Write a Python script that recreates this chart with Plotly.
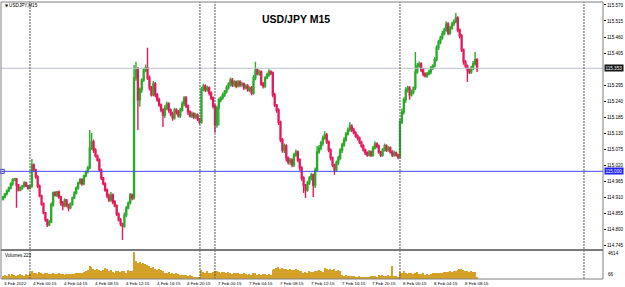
import plotly.graph_objects as go

# ---------------- data ----------------
close = [
    114.912, 114.923, 114.933, 114.943, 114.957, 114.971, 114.974, 114.953, 114.936, 114.943,
    114.950, 114.960, 114.950, 114.943, 114.950, 115.022, 115.005, 114.981, 114.950, 114.916,
    114.888, 114.858, 114.834, 114.817, 114.827, 114.885, 114.926, 114.919, 114.929, 114.912,
    114.892, 114.882, 114.902, 114.885, 114.875, 114.888, 114.909, 114.926, 114.943, 114.960,
    114.971, 114.957, 114.984, 114.998, 115.012, 115.080, 115.101, 115.073, 115.053, 115.039,
    115.005, 114.977, 114.957, 114.936, 114.916, 114.902, 114.919, 114.895, 114.882, 114.854,
    114.834, 114.820, 114.813, 114.851, 114.875, 114.892, 114.919, 114.909, 115.320, 115.347,
    115.245, 115.279, 115.313, 115.347, 115.354, 115.320, 115.286, 115.262, 115.299, 115.262,
    115.245, 115.227, 115.210, 115.193, 115.217, 115.231, 115.210, 115.197, 115.183, 115.210,
    115.203, 115.190, 115.210, 115.231, 115.251, 115.224, 115.203, 115.190, 115.197, 115.186,
    115.193, 115.179, 115.169, 115.279, 115.292, 115.279, 115.286, 115.268, 115.251, 115.224,
    115.159, 115.217, 115.245, 115.251, 115.262, 115.272, 115.286, 115.299, 115.313, 115.296,
    115.306, 115.292, 115.306, 115.296, 115.299, 115.286, 115.292, 115.279, 115.286, 115.268,
    115.320, 115.347, 115.334, 115.340, 115.299, 115.292, 115.320, 115.330, 115.340, 115.337,
    115.262, 115.227, 115.210, 115.169, 115.108, 115.073, 115.087, 115.046, 115.032, 115.039,
    115.022, 115.056, 115.066, 115.039, 115.012, 114.977, 114.953, 114.936, 114.960, 114.977,
    114.988, 114.953, 115.005, 115.066, 115.080, 115.097, 115.114, 115.125, 115.101, 115.073,
    115.046, 115.022, 115.005, 115.029, 115.046, 115.073, 115.090, 115.108, 115.128, 115.142,
    115.155, 115.142, 115.132, 115.121, 115.114, 115.101, 115.087, 115.073, 115.063, 115.056,
    115.066, 115.056, 115.080, 115.094, 115.087, 115.066, 115.056, 115.073, 115.087, 115.073,
    115.080, 115.066, 115.056, 115.063, 115.056, 115.049, 115.169, 115.203, 115.245, 115.279,
    115.286, 115.262, 115.272, 115.286, 115.340, 115.361, 115.368, 115.347, 115.334, 115.327,
    115.334, 115.340, 115.354, 115.361, 115.382, 115.423, 115.443, 115.457, 115.471, 115.484,
    115.505, 115.474, 115.491, 115.505, 115.512, 115.525, 115.484, 115.464, 115.416, 115.375,
    115.361, 115.347, 115.340, 115.354, 115.368, 115.382, 115.353,
]
first_open = 114.905

# upper / lower shadow lengths, in 0.001 price units
upper_wick = [
    4, 3, 5, 4, 6, 5, 4, 3, 4, 5,
    3, 6, 4, 3, 5, 20, 5, 4, 6, 5,
    4, 5, 3, 4, 6, 8, 5, 6, 4, 5,
    4, 6, 5, 3, 4, 5, 4, 6, 5, 4,
    6, 5, 4, 5, 6, 62, 30, 8, 6, 5,
    6, 5, 4, 6, 5, 8, 10, 5, 6, 4,
    5, 6, 4, 8, 6, 5, 7, 5, 44, 28,
    10, 8, 6, 7, 12, 69, 8, 6, 10, 7,
    6, 8, 5, 6, 10, 8, 6, 5, 7, 8,
    6, 7, 8, 9, 6, 7, 5, 6, 8, 5,
    6, 5, 4, 10, 8, 6, 7, 5, 6, 5,
    6, 8, 7, 6, 8, 7, 9, 6, 8, 7,
    6, 5, 7, 6, 8, 5, 6, 7, 5, 6,
    10, 28, 6, 8, 5, 7, 6, 8, 10, 6,
    5, 6, 4, 6, 5, 7, 8, 6, 5, 7,
    6, 8, 9, 5, 6, 5, 6, 4, 8, 7,
    6, 5, 8, 21, 10, 8, 9, 12, 6, 5,
    6, 5, 4, 8, 7, 6, 8, 9, 7, 8,
    14, 6, 7, 5, 6, 5, 4, 6, 5, 6,
    7, 5, 8, 9, 6, 5, 4, 7, 8, 6,
    7, 5, 6, 8, 5, 4, 10, 12, 8, 9,
    7, 6, 8, 5, 69, 10, 8, 6, 7, 5,
    6, 8, 7, 6, 10, 9, 8, 7, 10, 8,
    9, 6, 8, 7, 9, 17, 6, 5, 6, 5,
    6, 5, 7, 8, 10, 27, 5,
]
lower_wick = [
    5, 4, 6, 5, 4, 6, 5, 78, 5, 4,
    6, 5, 4, 6, 5, 6, 5, 6, 7, 5,
    6, 5, 7, 8, 5, 4, 6, 5, 7, 6,
    10, 15, 5, 8, 12, 5, 6, 4, 5, 6,
    5, 6, 5, 4, 5, 6, 7, 10, 6, 5,
    6, 7, 5, 6, 8, 7, 6, 8, 5, 7,
    6, 8, 48, 6, 7, 5, 6, 8, 6, 10,
    103, 24, 10, 6, 8, 7, 9, 6, 5, 8,
    7, 6, 8, 41, 10, 7, 9, 8, 10, 6,
    8, 6, 7, 5, 8, 7, 10, 6, 7, 8,
    6, 7, 8, 6, 5, 7, 6, 8, 7, 9,
    27, 10, 60, 8, 6, 7, 5, 6, 8, 7,
    6, 7, 5, 8, 6, 7, 5, 6, 8, 7,
    6, 8, 5, 7, 6, 8, 7, 5, 6, 7,
    8, 7, 9, 10, 8, 9, 10, 12, 9, 10,
    8, 7, 6, 8, 10, 9, 27, 27, 6, 7,
    8, 41, 10, 7, 6, 8, 9, 6, 7, 8,
    9, 8, 17, 6, 7, 8, 10, 6, 7, 5,
    6, 7, 5, 6, 8, 7, 6, 5, 7, 6,
    5, 7, 6, 5, 8, 6, 7, 6, 5, 7,
    6, 5, 7, 6, 5, 8, 6, 7, 8, 10,
    9, 17, 6, 8, 7, 6, 5, 7, 8, 6,
    7, 6, 8, 7, 5, 6, 7, 8, 6, 5,
    6, 8, 7, 6, 7, 5, 8, 9, 7, 10,
    8, 41, 7, 6, 8, 6, 13,
]

volume = [
    450, 700, 520, 800, 600, 900, 750, 500, 640, 820, 700, 560, 900, 680, 1100,
    1300,
    950, 1050, 900, 1150, 1000, 850, 1100, 980, 800, 900, 1050, 850, 780, 950,
    800, 900, 750, 850, 820, 900, 780, 860, 950, 1000, 1100, 1050, 1200, 1300, 1500,
    2300, 2000, 1800, 1600, 1700,
    1500, 1400, 1600, 1900, 1700, 1300, 1500, 1200, 1100, 1400, 1300,
    1200, 1400, 1300, 1100, 1500, 1400, 1300,
    4614,
    3100, 2800, 2900, 2600, 2700, 2500, 2400,
    2200, 1900, 2100, 1800, 1600, 1700, 1500, 1400,
    1100, 1000, 1200, 900, 1000, 850, 950,
    800, 700, 750, 650, 700, 600, 650,
    450, 400, 350, 300, 250,
    1500, 1200, 1100, 1300, 1000, 1100, 1200, 1400,
    1300, 1200, 1100, 1250, 1150, 1000, 1200, 1050, 900, 1100, 950, 1000, 850, 900, 950,
    800, 700, 900, 650, 1100, 1000, 750, 800, 700, 850, 900, 750, 800, 700,
    1600, 1700, 1900, 2000, 1800, 1900, 1700, 1800, 1600, 1700, 1500, 1600, 1700, 1500, 1400, 1300,
    1100, 1200, 1000, 1300, 1150, 1250, 1400, 1300, 1500, 1350, 1200,
    1950, 1700, 1600, 1750, 1500, 1800, 1400, 1600, 1300,
    700, 600, 650, 500, 550, 450, 500, 400, 350, 450, 400, 300, 350, 400, 300,
    450, 600, 500, 400, 650, 550, 700, 500, 600, 750, 500,
    2200,
    500, 600, 400,
    1200, 1100, 1300, 1000, 900, 1100, 950, 800, 1000, 1200,
    900, 800, 950, 700, 850, 750, 900, 1000, 1100, 950,
    1000, 1050, 1100, 1200, 1150, 1250, 1300, 1200, 1350, 1400,
    1500, 1700, 1650, 1600, 1400, 1300,
    1200, 1300, 1250, 1150, 223,
]

price_ticks = [115.570, 115.515, 115.460, 115.405, 115.295, 115.240, 115.185,
               115.130, 115.075, 115.020, 114.965, 114.910, 114.855, 114.800, 114.745]
bid_price = 115.353
level_price = 115.000

time_labels = [
    (0, "3 Feb 2022"), (15, "4 Feb 00:15"), (31, "4 Feb 04:15"), (47, "4 Feb 08:15"),
    (63, "4 Feb 12:15"), (79, "4 Feb 16:15"), (95, "4 Feb 20:15"), (111, "7 Feb 00:15"),
    (127, "7 Feb 04:15"), (143, "7 Feb 08:15"), (159, "7 Feb 12:15"), (175, "7 Feb 16:15"),
    (191, "7 Feb 20:15"), (207, "8 Feb 00:15"), (223, "8 Feb 04:15"), (239, "8 Feb 08:15"),
]
separators = [14, 102.2, 110, 206, 301.5]
vol_max_label = 4614
vol_min_label = 66

# ---------------- build ----------------
n = len(close)
idx = list(range(n))
opens = [first_open] + close[:-1]
highs = [max(o, c) + u / 1000 for o, c, u in zip(opens, close, upper_wick)]
lows = [min(o, c) - l / 1000 for o, c, l in zip(opens, close, lower_wick)]

GREEN = "#2AAA2A"
RED = "#E5195A"
FONT = "Arial, Liberation Sans, sans-serif"

W, H = 625, 287
ML, MR, MT, MB = 1, 22, 2, 8
PH = H - MT - MB  # plot height in px


def py(ypx):  # pixel -> paper y
    return (H - MB - ypx) / PH


def pxx(xpx):  # pixel -> paper x
    return (xpx - ML) / (W - ML - MR)


fig = go.Figure()
fig.add_trace(go.Candlestick(
    x=idx, open=opens, high=highs, low=lows, close=close,
    increasing=dict(line=dict(color=GREEN, width=1.4), fillcolor=GREEN),
    decreasing=dict(line=dict(color=RED, width=1.4), fillcolor=RED),
    whiskerwidth=0, xaxis="x", yaxis="y", hoverinfo="skip",
))
fig.add_trace(go.Bar(
    x=idx, y=volume, marker=dict(color="#D4A028", line=dict(width=0)),
    width=0.75, xaxis="x", yaxis="y2", hoverinfo="skip",
))
fig.add_trace(go.Scatter(
    x=[-0.4], y=[level_price], mode="markers",
    marker=dict(symbol="square-open", size=4, color="#3030FF", line=dict(width=1)),
    xaxis="x", yaxis="y", hoverinfo="skip", cliponaxis=False,
))

main_bottom = py(249)
vol_top = py(251)

shapes = []
shapes.append(dict(type="line", xref="paper", x0=0, x1=1, yref="y", y0=bid_price, y1=bid_price,
                   line=dict(color="#B8C0C8", width=1)))
shapes.append(dict(type="line", xref="paper", x0=0, x1=1, yref="y", y0=level_price, y1=level_price,
                   line=dict(color="#4646FF", width=1)))
for s in separators:
    shapes.append(dict(type="line", xref="x", x0=s, x1=s, yref="paper", y0=0, y1=1,
                       line=dict(color="#555555", width=1, dash="2px,1px")))
shapes.append(dict(type="rect", xref="paper", x0=0, x1=1, yref="paper", y0=vol_top, y1=main_bottom,
                   fillcolor="#7A7A7A", line=dict(width=0)))
shapes.append(dict(type="rect", xref="paper", x0=0, x1=1, yref="paper", y0=0, y1=1,
                   fillcolor="rgba(0,0,0,0)", line=dict(color="#808080", width=1)))

annotations = []
annotations.append(dict(text="<b>USD/JPY M15</b>", xref="paper", yref="paper",
                        x=pxx(296), y=py(19), xanchor="center", yanchor="middle",
                        showarrow=False, font=dict(family=FONT, size=10.5, color="#000000")))
annotations.append(dict(text="▼", xref="paper", yref="paper", x=pxx(2.5), y=py(5),
                        xanchor="left", yanchor="middle", showarrow=False,
                        font=dict(family="DejaVu Sans", size=4, color="#000000")))
annotations.append(dict(text="USDJPY,M15", xref="paper", yref="paper", x=pxx(7), y=py(5),
                        xanchor="left", yanchor="middle", showarrow=False,
                        font=dict(family=FONT, size=4.7, color="#000000")))
annotations.append(dict(text="Volumes %d" % volume[-1], xref="paper", yref="paper",
                        x=pxx(3), y=py(255), xanchor="left", yanchor="middle", showarrow=False,
                        font=dict(family=FONT, size=4.5, color="#000000")))
annotations.append(dict(text=str(vol_max_label), xref="paper", yref="paper", x=pxx(605.5), y=py(253.5),
                        xanchor="left", yanchor="middle", showarrow=False,
                        font=dict(family=FONT, size=4.6, color="#000000")))
annotations.append(dict(text=str(vol_min_label), xref="paper", yref="paper", x=pxx(605.5), y=py(274),
                        xanchor="left", yanchor="middle", showarrow=False,
                        font=dict(family=FONT, size=4.6, color="#000000")))
annotations.append(dict(text="%.3f" % bid_price, xref="paper", yref="y", x=pxx(603.5), y=bid_price,
                        xanchor="left", yanchor="middle", showarrow=False, bgcolor="#151515",
                        borderpad=0.5, font=dict(family=FONT, size=4.6, color="#FFFFFF")))
annotations.append(dict(text="%.3f" % level_price, xref="paper", yref="y", x=pxx(603.5), y=level_price,
                        xanchor="left", yanchor="middle", showarrow=False, bgcolor="#2020F0",
                        borderpad=0.5, font=dict(family=FONT, size=4.6, color="#FFFFFF")))
for b, lab in time_labels:
    annotations.append(dict(text=lab, xref="x", yref="paper", x=b - 0.3, y=py(283),
                            xanchor="left", yanchor="middle", showarrow=False,
                            font=dict(family=FONT, size=4.4, color="#000000")))

x_min = -1.04
x_max = x_min + (W - ML - MR) / 1.927

fig.update_layout(
    width=W, height=H,
    margin=dict(l=ML, r=MR, t=MT, b=MB, pad=0),
    paper_bgcolor="#FFFFFF", plot_bgcolor="#FFFFFF",
    showlegend=False,
    xaxis=dict(range=[x_min, x_max], domain=[0, 1], anchor="y2", showgrid=False,
               zeroline=False, showticklabels=False, ticks="", rangeslider=dict(visible=False),
               fixedrange=True),
    yaxis=dict(domain=[main_bottom, 1], range=[114.734, 115.580], side="right",
               tickvals=price_ticks, ticktext=["%.3f" % t for t in price_ticks],
               tickfont=dict(family=FONT, size=4.6, color="#000000"),
               ticks="outside", ticklen=2, tickcolor="#000000", showgrid=False,
               zeroline=False, anchor="x", fixedrange=True),
    yaxis2=dict(domain=[0, vol_top], range=[0, 4800], showticklabels=False, ticks="",
                showgrid=False, zeroline=False, anchor="x", fixedrange=True),
    shapes=shapes, annotations=annotations,
    bargap=0,
)

fig.write_html("out.html")
